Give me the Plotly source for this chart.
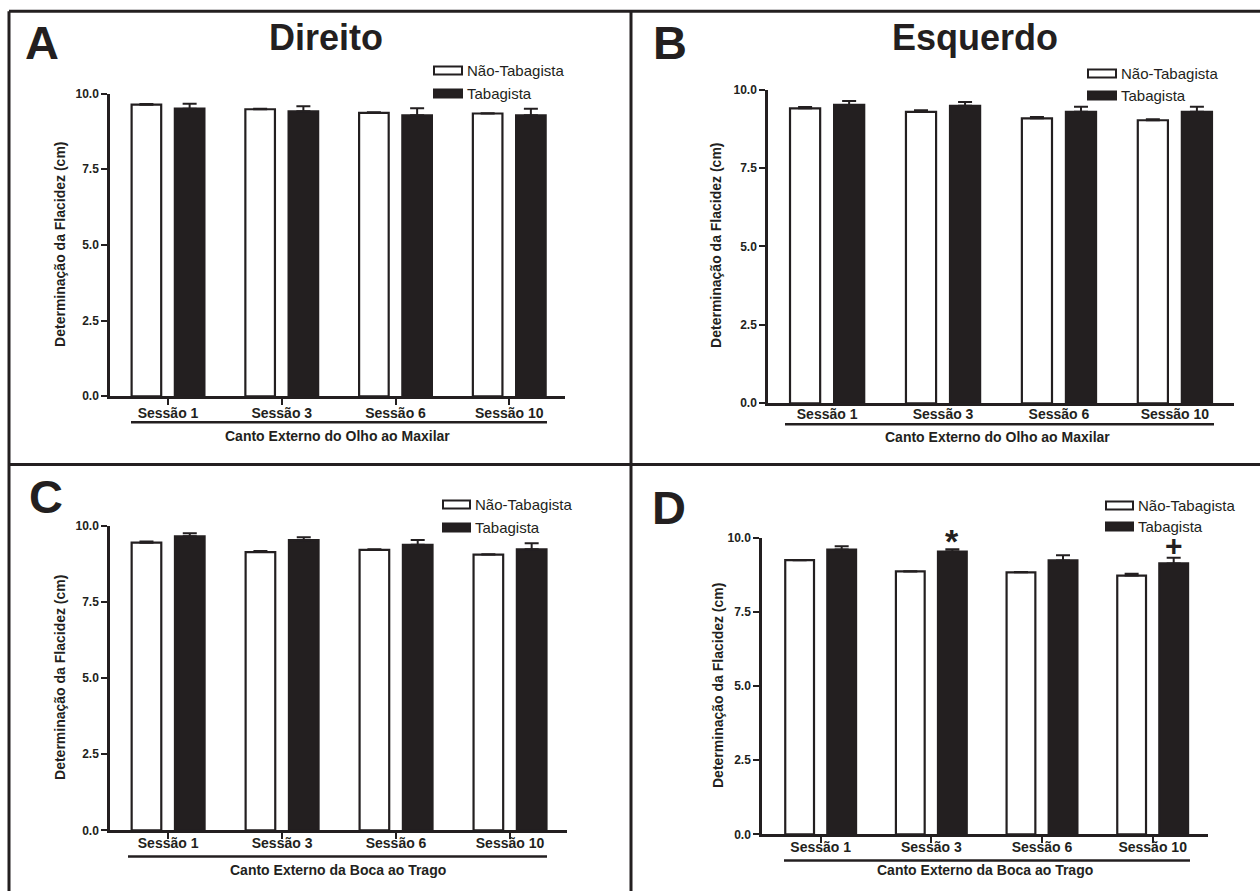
import plotly.graph_objects as go

# ---------------- data ----------------
sessions = ["Sessão 1", "Sessão 3", "Sessão 6", "Sessão 10"]
series_names = ["Não-Tabagista", "Tabagista"]

A_nao = [9.63, 9.48, 9.36, 9.34]
A_nao_err = [0.02, 0.02, 0.02, 0.01]
A_tab = [9.50, 9.41, 9.28, 9.28]
A_tab_err = [0.16, 0.17, 0.23, 0.22]

B_nao = [9.40, 9.29, 9.08, 9.02]
B_nao_err = [0.04, 0.05, 0.04, 0.03]
B_tab = [9.51, 9.48, 9.29, 9.29]
B_tab_err = [0.12, 0.12, 0.16, 0.16]

C_nao = [9.44, 9.13, 9.20, 9.05]
C_nao_err = [0.04, 0.04, 0.02, 0.01]
C_tab = [9.65, 9.52, 9.37, 9.22]
C_tab_err = [0.10, 0.10, 0.16, 0.20]

D_nao = [9.24, 8.86, 8.83, 8.72]
D_nao_err = [0.01, 0.01, 0.01, 0.06]
D_tab = [9.60, 9.53, 9.23, 9.13]
D_tab_err = [0.11, 0.08, 0.18, 0.19]

panel_letters = ["A", "B", "C", "D"]
panel_titles = ["Direito", "Esquerdo", "", ""]
x_titles = ["Canto Externo do Olho ao Maxilar", "Canto Externo do Olho ao Maxilar",
            "Canto Externo da Boca ao Trago", "Canto Externo da Boca ao Trago"]
y_title = "Determinação da Flacidez (cm)"
y_ticks = [0.0, 2.5, 5.0, 7.5, 10.0]
marks_D = {"Sessão 3": "*", "Sessão 10": "+"}

# ---------------- layout helpers ----------------
FW, FH = 1260, 900
DARK = "#231f20"
FONT = "Liberation Sans, Arial, Helvetica, sans-serif"
VY0, VSC = 7.7, 0.982   # vertical calibration of the photographed page


def X(px):
    return px / FW


def Y(py):
    return 1 - ((py - VY0) / VSC) / FH


data = [(A_nao, A_nao_err, A_tab, A_tab_err),
        (B_nao, B_nao_err, B_tab, B_tab_err),
        (C_nao, C_nao_err, C_tab, C_tab_err),
        (D_nao, D_nao_err, D_tab, D_tab_err)]

geo = [
    dict(x0=110, x1=565, yb=396, yt=94, xr=[-0.51, 3.49], ticks=True, stand=-4,
         lab=(42, 43), tit=(326, 38), leg=(434, 462, 71, 94),
         ul=(131, 547, 422), xt=(337, 436), yt_pos=(60, 245)),
    dict(x0=768, x1=1234, yb=403, yt=90, xr=[-0.51, 3.51], ticks=False, stand=-4,
         lab=(670, 43), tit=(975, 38), leg=(1088, 1116, 74, 96),
         ul=(785, 1214, 424), xt=(997, 437), yt_pos=(716, 246)),
    dict(x0=110, x1=567, yb=829, yt=525, xr=[-0.51, 3.50], ticks=True, stand=-8,
         lab=(46, 496), tit=None, leg=(443, 470, 504, 527),
         ul=(128, 547, 855), xt=(338, 869), yt_pos=(60, 677)),
    dict(x0=762, x1=1208, yb=833, yt=537, xr=[-0.53, 3.50], ticks=True, stand=-8,
         lab=(669, 507), tit=None, leg=(1106, 1133, 505, 526),
         ul=(784, 1190, 859), xt=(985, 869), yt_pos=(718, 685)),
]

fig = go.Figure()
layout = dict(
    width=FW, height=FH, margin=dict(l=0, r=0, t=0, b=0),
    paper_bgcolor="white", plot_bgcolor="white",
    showlegend=False, barmode="overlay",
    font=dict(family=FONT, color=DARK),
)
annotations = []
shapes = []

for i, (g, (nao, nao_err, tab, tab_err)) in enumerate(zip(geo, data)):
    n = "" if i == 0 else str(i + 1)
    xa, ya = "x" + n, "y" + n
    err_style = dict(type="data", symmetric=False, color=DARK, thickness=2, width=7)
    fig.add_trace(go.Bar(
        x=sessions, y=nao, width=0.26, offset=-0.32, name=series_names[0],
        marker=dict(color="white", line=dict(color=DARK, width=2.2)),
        error_y=dict(array=nao_err, arrayminus=[0] * len(nao), **err_style),
        xaxis=xa, yaxis=ya))
    fig.add_trace(go.Bar(
        x=sessions, y=tab, width=0.26, offset=0.06, name=series_names[1],
        marker=dict(color=DARK, line=dict(color=DARK, width=2.2)),
        error_y=dict(array=tab_err, arrayminus=[0] * len(tab), **err_style),
        xaxis=xa, yaxis=ya))

    layout["xaxis" + n] = dict(
        domain=[X(g["x0"]), X(g["x1"])], anchor=ya, type="category",
        range=g["xr"], showline=True, linewidth=2.5, linecolor=DARK,
        ticks="outside" if g["ticks"] else "", ticklen=6, tickwidth=2, tickcolor=DARK,
        ticklabelstandoff=g["stand"],
        tickfont=dict(family=FONT, size=14, color=DARK, weight="bold"),
        showgrid=False, zeroline=False, fixedrange=True)
    layout["yaxis" + n] = dict(
        domain=[Y(g["yb"]), Y(g["yt"])], anchor=xa, range=[0, 10],
        tickvals=y_ticks, ticktext=[f"{v:.1f}" for v in y_ticks],
        showline=True, linewidth=2.5, linecolor=DARK,
        ticks="outside", ticklen=6, tickwidth=2, tickcolor=DARK,
        tickfont=dict(family=FONT, size=12, color=DARK, weight="bold"),
        showgrid=False, zeroline=False, fixedrange=True)

    lx, ly = g["lab"]
    annotations.append(dict(text=panel_letters[i], x=X(lx), y=Y(ly), xref="paper", yref="paper",
                            showarrow=False, xanchor="center", yanchor="middle",
                            font=dict(family=FONT, size=47, color=DARK, weight="bold")))
    if g["tit"]:
        tx, ty = g["tit"]
        annotations.append(dict(text=panel_titles[i], x=X(tx), y=Y(ty), xref="paper", yref="paper",
                                showarrow=False, xanchor="center", yanchor="middle",
                                font=dict(family=FONT, size=36, color=DARK, weight="bold")))
    lx0, lx1, ly0, ly1 = g["leg"]
    for k, (yy, fill) in enumerate([(ly0, "white"), (ly1, DARK)]):
        shapes.append(dict(type="rect", xref="paper", yref="paper",
                           x0=X(lx0), x1=X(lx1), y0=Y(yy + 4), y1=Y(yy - 4),
                           fillcolor=fill, line=dict(color=DARK, width=2)))
        annotations.append(dict(text=series_names[k], x=X(lx1 + 3), y=Y(yy), xref="paper", yref="paper",
                                showarrow=False, xanchor="left", yanchor="middle",
                                font=dict(family=FONT, size=15, color=DARK)))
    ux0, ux1, uy = g["ul"]
    shapes.append(dict(type="line", xref="paper", yref="paper", x0=X(ux0), x1=X(ux1),
                       y0=Y(uy), y1=Y(uy), line=dict(color=DARK, width=2.5)))
    xtx, xty = g["xt"]
    annotations.append(dict(text=x_titles[i], x=X(xtx), y=Y(xty), xref="paper", yref="paper",
                            showarrow=False, xanchor="center", yanchor="middle",
                            font=dict(family=FONT, size=14, color=DARK, weight="bold")))
    ytx, yty = g["yt_pos"]
    annotations.append(dict(text=y_title, x=X(ytx), y=Y(yty), xref="paper", yref="paper",
                            showarrow=False, xanchor="center", yanchor="middle", textangle=-90,
                            font=dict(family=FONT, size=14, color=DARK, weight="bold")))

# significance marks on panel D, anchored to the tops of the error bars
for sess, sym in marks_D.items():
    j = sessions.index(sess)
    top = D_tab[j] + D_tab_err[j]
    annotations.append(dict(text=sym, x=sess, y=top, xref="x4", yref="y4",
                            xshift=0.19 * 110.7, yshift=-13 if sym == "*" else -6,
                            showarrow=False, xanchor="center", yanchor="bottom",
                            font=dict(family=FONT, size=34 if sym == "*" else 30,
                                      color=DARK, weight="bold")))

frame = dict(color=DARK, width=3)
shapes += [
    dict(type="line", xref="paper", yref="paper", x0=X(9), x1=X(1262), y0=Y(12), y1=Y(12), line=frame),
    dict(type="line", xref="paper", yref="paper", x0=X(9), x1=X(9), y0=Y(12), y1=Y(905), line=frame),
    dict(type="line", xref="paper", yref="paper", x0=X(631), x1=X(631), y0=Y(12), y1=Y(905), line=frame),
    dict(type="line", xref="paper", yref="paper", x0=X(9), x1=X(1262), y0=Y(464), y1=Y(464), line=frame),
]

layout["annotations"] = annotations
layout["shapes"] = shapes
fig.update_layout(**layout)
fig.write_html(
    "out.html",
    config={"displayModeBar": False},
    post_script="document.body.style.margin='0px';document.body.style.padding='0px';"
                "document.documentElement.style.overflow='hidden';"
                "document.body.style.overflow='hidden';",
)
